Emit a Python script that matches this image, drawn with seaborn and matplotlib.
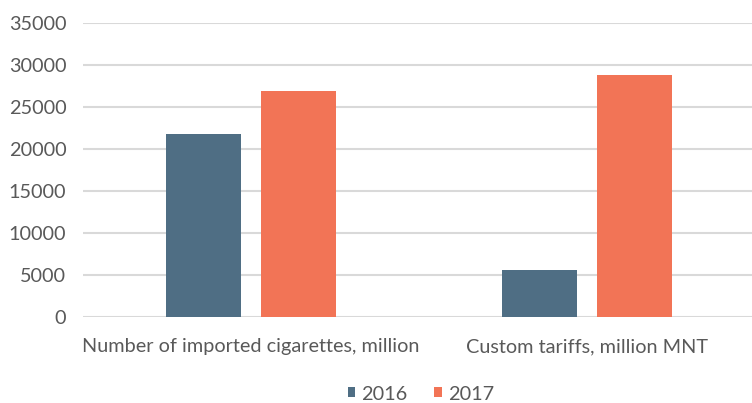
import pandas as pd
import seaborn as sns
from matplotlib import pyplot as plt

categories = ["Number of imported cigarettes, million", "Custom tariffs, million MNT"]
years = ["2016", "2017"]
values_2016 = [21800, 5600]
values_2017 = [27000, 28800]
colors = {"2016": "#4F6E84", "2017": "#F27456"}

df = pd.DataFrame({
    "category": categories * 2,
    "year": [years[0]] * 2 + [years[1]] * 2,
    "value": values_2016 + values_2017,
})

sns.set_style("white")
plt.rcParams["font.family"] = ["Lato", "DejaVu Sans"]

fig = plt.figure(figsize=(7.52, 4.03), dpi=100)
ax = fig.add_axes([83 / 752, (403 - 317.3) / 403, 672 / 752, 294 / 403])

sns.barplot(df, x="category", y="value", hue="year", order=categories, hue_order=years,
            palette=colors, width=0.565, gap=0.21, ax=ax, saturation=1, linewidth=0)

ax.set_xlim(-0.5, 1.5)
ax.set_ylim(0, 35000)
ax.set_yticks(range(0, 35001, 5000))
ax.yaxis.grid(True, color="#D9D9D9", linewidth=1.5)
ax.set_axisbelow(True)
for side in ["top", "right", "left", "bottom"]:
    ax.spines[side].set_visible(False)
ax.tick_params(axis="both", length=0, labelsize=14.3, labelcolor="#595959")
ax.tick_params(axis="y", pad=12)
ax.tick_params(axis="x", pad=15)
ax.set_xlabel("")
ax.set_ylabel("")

ax.legend(loc="center", bbox_to_anchor=(421 / 752, (403 - 394) / 403), bbox_transform=fig.transFigure,
          ncol=2, frameon=False, fontsize=14.3, labelcolor="#595959", handlelength=0.4, handleheight=0.4,
          handletextpad=0.3, columnspacing=1.35, borderpad=0)

fig.savefig("out.png", dpi=100)
